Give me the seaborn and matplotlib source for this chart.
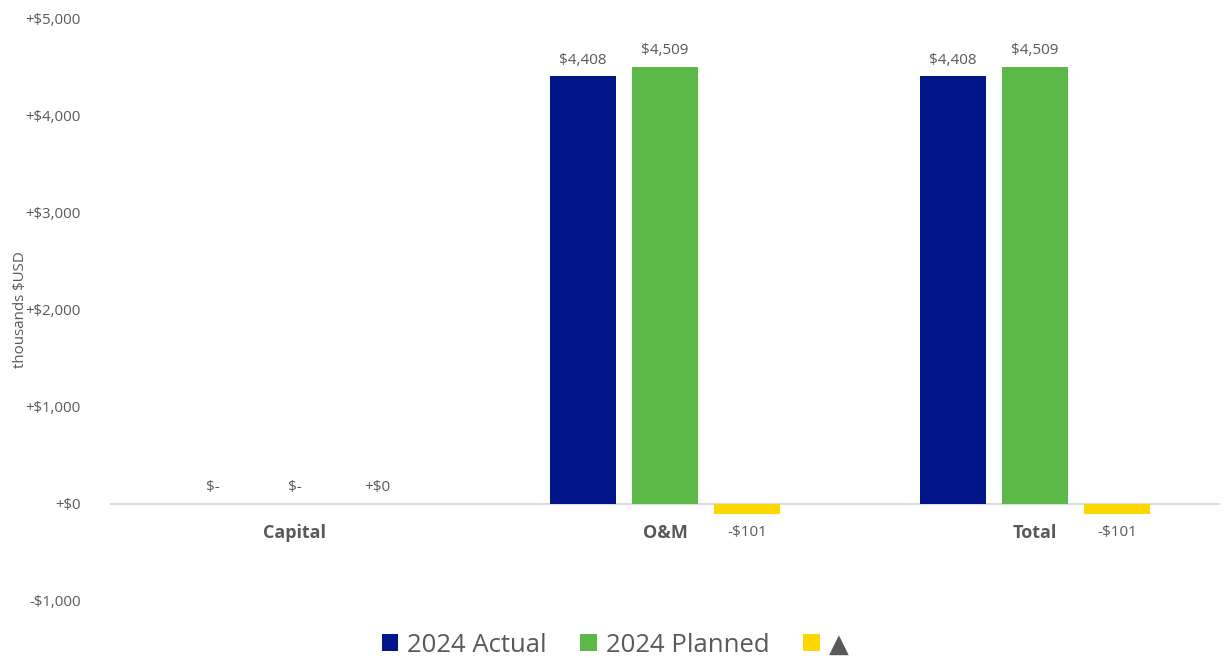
import matplotlib
matplotlib.use("Agg")
import matplotlib.pyplot as plt
import seaborn as sns
import pandas as pd
from matplotlib.patches import Patch

categories = ["Capital", "O&M", "Total"]
series_names = ["2024 Actual", "2024 Planned", "▲"]
actual = [0, 4408, 4408]
planned = [0, 4509, 4509]
delta = [0, -101, -101]
yticks = [-1000, 0, 1000, 2000, 3000, 4000, 5000]

colors = ["#001689", "#5BBA47", "#FFD700"]
text_gray = "#595959"

rows = []
for i, c in enumerate(categories):
    rows.append((c, series_names[0], actual[i]))
    rows.append((c, series_names[1], planned[i]))
    rows.append((c, series_names[2], delta[i]))
df = pd.DataFrame(rows, columns=["cat", "series", "value"])

sns.set_theme(style="white")
plt.rcParams["font.family"] = ["Open Sans", "DejaVu Sans"]

fig = plt.figure(figsize=(12.24, 6.58), dpi=100)
ax = fig.add_axes([110/1224, 1-601/658, 1110/1224, (601-19)/658])

sns.barplot(data=df, x="cat", y="value", hue="series", order=categories,
            hue_order=series_names, palette=colors, width=0.665, gap=0.2,
            ax=ax, legend=False, saturation=1, errorbar=None, linewidth=0)

ax.set_xlim(-0.5, 2.5)
ax.set_ylim(-1000, 5000)
ax.set_yticks(yticks)
ax.set_yticklabels([("+$" if v >= 0 else "-$") + f"{abs(v):,}" for v in yticks],
                   color=text_gray, fontsize=10.8)
ax.tick_params(axis="y", length=0, pad=21)
ax.set_xticks([])
ax.set_xlabel("")
ax.set_ylabel("thousands $USD", color=text_gray, fontsize=10.8, labelpad=8)
ax.yaxis.set_label_coords(-82/1110, 0.5)
for s in ax.spines.values():
    s.set_visible(False)
ax.axhline(0, color="#D9D9D9", lw=1.3, zorder=0)

# category labels
for i, c in enumerate(categories):
    ax.text(i, -300, c, ha="center", va="center", fontsize=13,
            fontweight="bold", color=text_gray)

# data labels
for cont_idx, cont in enumerate(ax.containers):
    for j, bar in enumerate(cont):
        v = [actual, planned, delta][cont_idx][j]
        xc = bar.get_x() + bar.get_width()/2
        if cont_idx < 2:
            lab = "$-" if v == 0 else f"${v:,}"
        else:
            lab = ("+$" if v >= 0 else "-$") + f"{abs(v):,}"
        if v >= 0:
            ax.text(xc, v + 90, lab, ha="center", va="bottom", fontsize=11, color=text_gray)
        else:
            ax.text(xc, -290, lab, ha="center", va="center", fontsize=11, color=text_gray)

handles = [Patch(facecolor=col, edgecolor="none") for col in colors]
leg = fig.legend(handles, series_names, loc="center", bbox_to_anchor=(615/1224, 1-645/658),
                 ncol=3, frameon=False, fontsize=18.5, handlelength=0.65, handleheight=0.65,
                 handletextpad=0.35, columnspacing=1.3)
for t in leg.get_texts():
    t.set_color(text_gray)

fig.savefig("out.png", dpi=100)
